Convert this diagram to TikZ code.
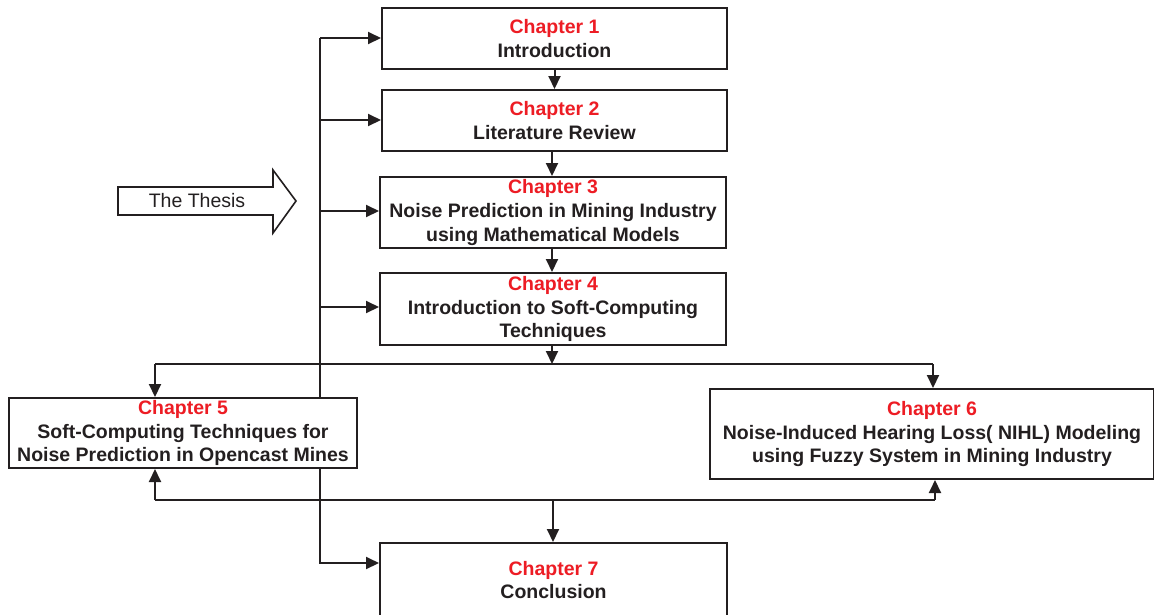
\documentclass[tikz,border=0pt]{standalone}
\usepackage{fontspec}
\setmainfont{Liberation Sans}
\usetikzlibrary{arrows.meta,calc}
\definecolor{chred}{HTML}{ED1C24}
\definecolor{ink}{HTML}{231F20}
\begin{document}
\begin{tikzpicture}[x=1pt,y=-1pt,
  chbox/.style={draw=ink,line width=2pt,fill=white,align=center,inner sep=0pt,
    font=\fontsize{19.5}{23.5}\selectfont\bfseries,text=ink},
  conn/.style={draw=ink,line width=2pt},
  arr/.style={conn,-{Triangle[length=13pt,width=12pt]}}]
\useasboundingbox (0,0) rectangle (1154,614);
% boxes
\node[chbox,minimum width=345,minimum height=61] (b1) at (554.5,38.5)
  {\textcolor{chred}{Chapter 1}\\Introduction};
\node[chbox,minimum width=345,minimum height=61] (b2) at (554.5,120.5)
  {\textcolor{chred}{Chapter 2}\\Literature Review};
\node[chbox,minimum width=346,minimum height=71] (b3) at (553,212.5)
  {\textcolor{chred}{Chapter 3}\\[0.5pt]Noise Prediction in Mining Industry\\using Mathematical Models};
\node[chbox,minimum width=346,minimum height=72] (b4) at (553,309)
  {\textcolor{chred}{Chapter 4}\\Introduction to Soft-Computing\\Techniques};
\node[chbox,minimum width=348,minimum height=70] (b5) at (183,433)
  {\textcolor{chred}{Chapter 5}\\Soft-Computing Techniques for\\Noise Prediction in Opencast Mines};
\node[chbox,minimum width=444,minimum height=90] (b6) at (932,434)
  {\textcolor{chred}{Chapter 6}\\Noise-Induced Hearing Loss( NIHL) Modeling\\using Fuzzy System in Mining Industry};
\node[chbox,minimum width=347,minimum height=74] (b7) at (553.5,580)
  {\textcolor{chred}{Chapter 7}\\Conclusion};
% thesis arrow
\draw[ink,line width=1.6pt,fill=white] (118,187) -- (273,187) -- (273,170) -- (296,201)
  -- (273,233) -- (273,215) -- (118,215) -- cycle;
\node[text=ink,font=\fontsize{19.5}{23.5}\selectfont] (thesis) at (197,201) {The Thesis};
% left spine
\coordinate (s1) at (320,38);
\coordinate (s2) at (320,120);
\coordinate (s3) at (320,211);
\coordinate (s4) at (320,307);
\coordinate (s7) at (320,563);
\draw[conn] (s1) -- (s1 |- b5.north);
\draw[arr] (s1) -- (s1 -| b1.west);
\draw[arr] (s2) -- (s2 -| b2.west);
\draw[arr] (s3) -- (s3 -| b3.west);
\draw[arr] (s4) -- (s4 -| b4.west);
\draw[arr] (s7 |- b5.south) -- (s7) -- (s7 -| b7.west);
% chain
\draw[arr] (b1.south) -- (b2.north);
\draw[arr] (b2.south -| 552,0) -- (b3.north -| 552,0);
\draw[arr] (b3.south -| 552,0) -- (b4.north -| 552,0);
% split
\coordinate (j1) at (552,364);
\coordinate (l5) at (155,364);
\coordinate (r6) at (933,364);
\draw[arr] (b4.south -| j1) -- (j1);
\draw[conn] (l5) -- (r6);
\draw[arr] (l5) -- (l5 |- b5.north);
\draw[arr] (r6) -- (r6 |- b6.north);
% merge
\coordinate (m5) at (155,500);
\coordinate (m6) at (935,500);
\coordinate (j2) at (553,500);
\draw[conn] (m5) -- (m6);
\draw[arr] (m5) -- (m5 |- b5.south);
\draw[arr] (m6) -- (m6 |- b6.south);
\draw[arr] (j2) -- (j2 |- b7.north);
\end{tikzpicture}
\end{document}
